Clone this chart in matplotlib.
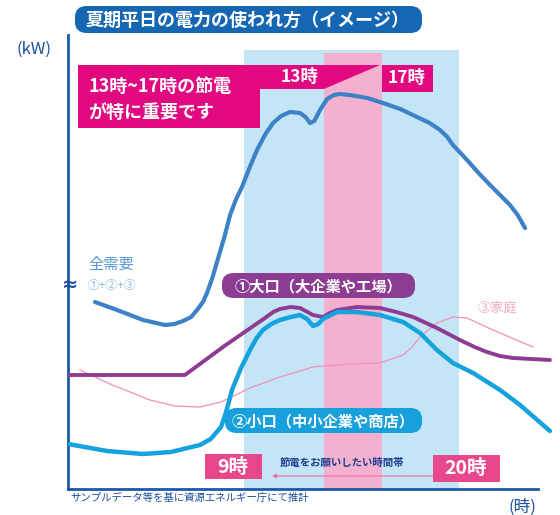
import matplotlib
matplotlib.use('Agg')
import matplotlib.pyplot as plt
from matplotlib.patches import FancyBboxPatch, Polygon, Rectangle

plt.rcParams['font.family'] = ['Noto Sans CJK JP', 'DejaVu Sans']

W, H = 560, 515

# hour of day / demand (relative units)
total_h = [1.38, 2.51, 3.84, 4.96, 5.45, 5.88, 6.30, 6.60, 6.90, 7.11, 7.40, 7.62,
           8.00, 8.29, 8.60, 8.90, 9.30, 9.67, 10.10, 10.49, 10.90, 11.36, 11.87,
           12.15, 12.38, 12.60, 12.89, 13.25, 13.60, 13.91, 14.42, 15.30, 16.11,
           17.00, 17.85, 18.50, 19.03, 19.40, 19.69, 20.41, 21.00, 21.59, 22.61,
           23.00, 23.38]
total_kw = [187, 179, 169, 164, 165, 168, 172, 179, 187, 196, 212, 227,
            252, 274, 290, 302, 322, 339, 355, 366, 373, 377, 376,
            372, 366, 368, 379, 390, 394, 395, 394, 391, 386,
            380, 372, 366, 359, 352, 344, 329, 316, 304, 284,
            274, 261]

large_h = [0, 5.98, 8.0, 10.0, 10.5, 10.84, 11.40, 11.87, 12.25, 12.53, 13.04,
           13.40, 13.76, 14.78, 15.96, 16.80, 17.65, 18.87, 20.05, 20.80, 21.43,
           22.10, 22.76, 24.65]
large_kw = [114, 114, 143, 170, 177, 180, 182, 181, 177, 174, 172,
            176, 179, 182, 181, 177, 172, 161, 149, 142, 137,
            133, 131, 129]

small_h = [0, 1.99, 3.84, 5.27, 6.75, 7.30, 7.83, 8.10, 8.39, 8.85, 9.31, 9.65, 9.97,
           10.40, 10.84, 11.40, 11.87, 12.23, 12.53, 12.80, 13.04, 13.76, 14.78,
           15.96, 17.14, 18.01, 18.87, 19.69, 20.72, 22.10, 23.12, 24.65]
small_kw = [45, 38, 35, 37, 44, 50, 62, 78, 99, 121, 139, 151, 159,
            165, 169, 172, 174, 170, 163, 165, 170, 177, 177,
            174, 167, 156, 139, 126, 116, 99, 84, 58]

home_h = [0.61, 2.15, 3.17, 4.19, 5.47, 6.75, 7.83, 9.31, 10.84, 12.53, 14.42,
          15.96, 17.14, 17.60, 18.01, 18.87, 19.69, 20.41, 21.74, 23.79]
home_kw = [119, 105, 97, 89, 83, 82, 87, 101, 112, 122, 125,
           126, 134, 142, 152, 166, 172, 171, 159, 142]

save_band = (9, 20)
core_band = (13.1, 16.05)

DARK = '#1c4f9e'
MAGENTA = '#e2087f'
PINKBOX = '#e8478b'


def fp(x, y):
    return x / W, 1 - y / H


def pill(x0, y0, x1, y1, color):
    x, y = fp(x0, y1)
    p = FancyBboxPatch((x, y), (x1 - x0) / W, (y1 - y0) / H,
                       boxstyle='round,pad=0,rounding_size=0.021',
                       transform=fig.transFigure, facecolor=color,
                       edgecolor='none', zorder=5)
    fig.patches.append(p)


def box(x0, y0, x1, y1, color):
    x, y = fp(x0, y1)
    r = Rectangle((x, y), (x1 - x0) / W, (y1 - y0) / H,
                  transform=fig.transFigure, facecolor=color,
                  edgecolor='none', zorder=5)
    fig.patches.append(r)


def label(x, y, s, **kw):
    fx, fy = fp(x, y)
    fig.text(fx, fy, s, zorder=6, **kw)


fig = plt.figure(figsize=(5.6, 5.15), dpi=100)
ax = fig.add_axes([68 / W, 1 - 489 / H, 486 / W, 454 / H])
ax.set_xlim(0, 486 / 19.55)
ax.set_ylim(0, 454)

ax.axvspan(*save_band, ymax=439 / 454, color='#c4e5f6', lw=0, zorder=0)
ax.axvspan(*core_band, ymax=436 / 454, color='#f4b0cf', lw=0, zorder=0)

ax.plot(home_h, home_kw, color='#f190ba', lw=0.9, zorder=2)
ax.plot(large_h, large_kw, color='#8e3c93', lw=2.8, zorder=3,
        solid_joinstyle='round', solid_capstyle='round')
ax.plot(small_h, small_kw, color='#16a2dd', lw=3.2, zorder=3,
        solid_joinstyle='round', solid_capstyle='round')
ax.plot(total_h, total_kw, color='#3d82c6', lw=3.0, zorder=4,
        solid_joinstyle='round', solid_capstyle='round')

for s in ['top', 'right']:
    ax.spines[s].set_visible(False)
for s in ['left', 'bottom']:
    ax.spines[s].set_color('#1b58a8')
    ax.spines[s].set_linewidth(2)
ax.spines['bottom'].set_bounds(0, 470 / 19.55)
ax.set_xticks([])
ax.set_yticks([])
ax.patch.set_alpha(0)

# title
pill(75, 6, 422, 33, '#1667b3')
label(248, 20, '夏期平日の電力の使われ方（イメージ）', color='white',
      fontsize=13, fontweight='bold', ha='center', va='center')

label(34, 49, '(kW)', color=DARK, fontsize=12, ha='center', va='center')
label(522, 507, '(時)', color=DARK, fontsize=12, ha='center', va='center')
label(70, 284, '≈', color=DARK, fontsize=14, fontweight='bold',
      ha='center', va='center', family=['DejaVu Sans'])

# top banner
banner = [(78, 65), (380, 65), (324, 89), (260, 89), (260, 128), (78, 128)]
fig.patches.append(Polygon([fp(x, y) for x, y in banner], closed=True,
                           transform=fig.transFigure, facecolor=MAGENTA,
                           edgecolor='none', zorder=5))
box(382, 65, 433, 92, MAGENTA)
label(88, 86, '13時~17時の節電', color='white', fontsize=13,
      fontweight='bold', ha='left', va='center')
label(88, 112, 'が特に重要です', color='white', fontsize=13,
      fontweight='bold', ha='left', va='center')
label(300, 77, '13時', color='white', fontsize=12.5, fontweight='bold',
      ha='center', va='center')
label(407, 78, '17時', color='white', fontsize=12.5, fontweight='bold',
      ha='center', va='center')

# series labels
label(88, 264, '全需要', color='#5b9ad6', fontsize=11, ha='left', va='center')
label(88, 285, '①+②+③', color='#93bde3', fontsize=8.5, ha='left', va='center')
pill(222, 273, 415, 298, '#8c3d92')
label(318, 286, '①大口（大企業や工場）', color='white', fontsize=11,
      fontweight='bold', ha='center', va='center')
pill(225, 408, 422, 433, '#17a0dc')
label(323, 421, '②小口（中小企業や商店）', color='white', fontsize=11,
      fontweight='bold', ha='center', va='center')
label(478, 308, '③家庭', color='#f4a3c4', fontsize=9.5, ha='left', va='center')

# time-band notes
box(205, 454, 262, 479, PINKBOX)
box(433, 455, 500, 482, PINKBOX)
label(233, 467, '9時', color='white', fontsize=14, fontweight='bold',
      ha='center', va='center')
label(466, 468, '20時', color='white', fontsize=14, fontweight='bold',
      ha='center', va='center')
label(342, 463, '節電をお願いしたい時間帯', color='#1d3f8f', fontsize=7.5,
      fontweight='bold', ha='center', va='center')
ax.annotate('', xy=(19.2, 13), xytext=(10.3, 13),
            arrowprops=dict(arrowstyle='<|-|>', color='#f06ca0', lw=0.8,
                            mutation_scale=6), zorder=6)

label(70, 498, 'サンプルデータ等を基に資源エネルギー庁にて推計', color=DARK,
      fontsize=7.5, ha='left', va='center')

fig.savefig('out.png', dpi=100)
